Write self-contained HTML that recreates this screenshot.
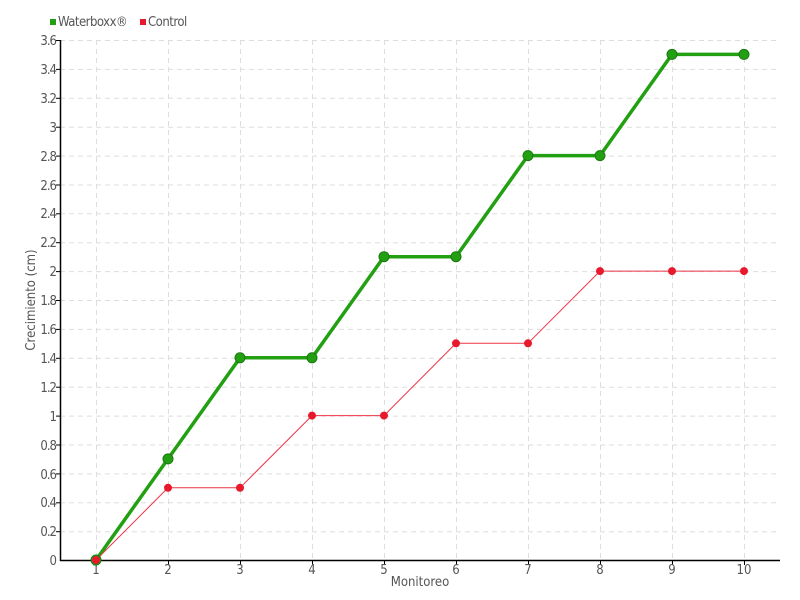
<!DOCTYPE html>
<html><head><meta charset="utf-8"><style>
html,body{margin:0;padding:0;background:#fff;}
svg{display:block;}
text{font-family:"DejaVu Sans Condensed","Liberation Sans",sans-serif;fill:#555;font-size:13px;}
</style></head><body>
<svg width="800" height="600" viewBox="0 0 800 600" xmlns="http://www.w3.org/2000/svg">
<g stroke="#ddd" stroke-width="1" stroke-dasharray="5,4">
<line x1="60" x2="780" y1="40.5" y2="40.5"/><line x1="60" x2="780" y1="69.4" y2="69.4"/><line x1="60" x2="780" y1="98.3" y2="98.3"/><line x1="60" x2="780" y1="127.2" y2="127.2"/><line x1="60" x2="780" y1="156.1" y2="156.1"/><line x1="60" x2="780" y1="185" y2="185"/><line x1="60" x2="780" y1="213.8" y2="213.8"/><line x1="60" x2="780" y1="242.7" y2="242.7"/><line x1="60" x2="780" y1="271.6" y2="271.6"/><line x1="60" x2="780" y1="300.5" y2="300.5"/><line x1="60" x2="780" y1="329.4" y2="329.4"/><line x1="60" x2="780" y1="358.3" y2="358.3"/><line x1="60" x2="780" y1="387.2" y2="387.2"/><line x1="60" x2="780" y1="416.1" y2="416.1"/><line x1="60" x2="780" y1="445" y2="445"/><line x1="60" x2="780" y1="473.9" y2="473.9"/><line x1="60" x2="780" y1="502.8" y2="502.8"/><line x1="60" x2="780" y1="531.7" y2="531.7"/>
<line y1="40" y2="560" x1="96.5" x2="96.5"/><line y1="40" y2="560" x1="168.5" x2="168.5"/><line y1="40" y2="560" x1="240.5" x2="240.5"/><line y1="40" y2="560" x1="312.5" x2="312.5"/><line y1="40" y2="560" x1="384.5" x2="384.5"/><line y1="40" y2="560" x1="456.5" x2="456.5"/><line y1="40" y2="560" x1="528.5" x2="528.5"/><line y1="40" y2="560" x1="600.5" x2="600.5"/><line y1="40" y2="560" x1="672.5" x2="672.5"/><line y1="40" y2="560" x1="744.5" x2="744.5"/>
</g>
<g stroke="#000" stroke-width="1.5">
<line x1="60.5" y1="40" x2="60.5" y2="561"/>
<line x1="60" y1="560.5" x2="780" y2="560.5"/>
</g>
<g stroke="#000" stroke-width="1">
<line x1="56" x2="60" y1="40.5" y2="40.5"/><line x1="56" x2="60" y1="69.4" y2="69.4"/><line x1="56" x2="60" y1="98.3" y2="98.3"/><line x1="56" x2="60" y1="127.2" y2="127.2"/><line x1="56" x2="60" y1="156.1" y2="156.1"/><line x1="56" x2="60" y1="185" y2="185"/><line x1="56" x2="60" y1="213.8" y2="213.8"/><line x1="56" x2="60" y1="242.7" y2="242.7"/><line x1="56" x2="60" y1="271.6" y2="271.6"/><line x1="56" x2="60" y1="300.5" y2="300.5"/><line x1="56" x2="60" y1="329.4" y2="329.4"/><line x1="56" x2="60" y1="358.3" y2="358.3"/><line x1="56" x2="60" y1="387.2" y2="387.2"/><line x1="56" x2="60" y1="416.1" y2="416.1"/><line x1="56" x2="60" y1="445" y2="445"/><line x1="56" x2="60" y1="473.9" y2="473.9"/><line x1="56" x2="60" y1="502.8" y2="502.8"/><line x1="56" x2="60" y1="531.7" y2="531.7"/>
<line y1="560" y2="565" x1="96.5" x2="96.5"/><line y1="560" y2="565" x1="168.5" x2="168.5"/><line y1="560" y2="565" x1="240.5" x2="240.5"/><line y1="560" y2="565" x1="312.5" x2="312.5"/><line y1="560" y2="565" x1="384.5" x2="384.5"/><line y1="560" y2="565" x1="456.5" x2="456.5"/><line y1="560" y2="565" x1="528.5" x2="528.5"/><line y1="560" y2="565" x1="600.5" x2="600.5"/><line y1="560" y2="565" x1="672.5" x2="672.5"/><line y1="560" y2="565" x1="744.5" x2="744.5"/>
</g>
<g text-anchor="end" letter-spacing="-1">
<text x="56" y="45">3.6</text><text x="56" y="74">3.4</text><text x="56" y="103">3.2</text><text x="56" y="132">3</text><text x="56" y="161">2.8</text><text x="56" y="190">2.6</text><text x="56" y="218">2.4</text><text x="56" y="247">2.2</text><text x="56" y="276">2</text><text x="56" y="305">1.8</text><text x="56" y="334">1.6</text><text x="56" y="363">1.4</text><text x="56" y="392">1.2</text><text x="56" y="421">1</text><text x="56" y="450">0.8</text><text x="56" y="479">0.6</text><text x="56" y="507">0.4</text><text x="56" y="536">0.2</text><text x="56" y="565">0</text>
</g>
<g text-anchor="middle">
<text x="96" y="574">1</text><text x="168" y="574">2</text><text x="240" y="574">3</text><text x="312" y="574">4</text><text x="384" y="574">5</text><text x="456" y="574">6</text><text x="528" y="574">7</text><text x="600" y="574">8</text><text x="672" y="574">9</text><text x="744" y="574">10</text>
<text x="420" y="586">Monitoreo</text>
<text transform="translate(35,300) rotate(-90)">Crecimiento (cm)</text>
</g>
<polyline fill="none" stroke="#22a012" stroke-width="3.5" points="96,560 168,458.9 240,357.8 312,357.8 384,256.7 456,256.7 528,155.6 600,155.6 672,54.4 744,54.4"/>
<polyline fill="none" stroke="#ee3344" stroke-width="1" points="96,560 168,487.8 240,487.8 312,415.6 384,415.6 456,343.3 528,343.3 600,271.1 672,271.1 744,271.1"/>
<g fill="#22a012" stroke="#1a7a10" stroke-width="1">
<circle cx="96" cy="560" r="5"/><circle cx="168" cy="458.9" r="5"/><circle cx="240" cy="357.8" r="5"/><circle cx="312" cy="357.8" r="5"/><circle cx="384" cy="256.7" r="5"/><circle cx="456" cy="256.7" r="5"/><circle cx="528" cy="155.6" r="5"/><circle cx="600" cy="155.6" r="5"/><circle cx="672" cy="54.4" r="5"/><circle cx="744" cy="54.4" r="5"/>
</g>
<g fill="#e8192c">
<circle cx="96" cy="560" r="4"/><circle cx="168" cy="487.8" r="4"/><circle cx="240" cy="487.8" r="4"/><circle cx="312" cy="415.6" r="4"/><circle cx="384" cy="415.6" r="4"/><circle cx="456" cy="343.3" r="4"/><circle cx="528" cy="343.3" r="4"/><circle cx="600" cy="271.1" r="4"/><circle cx="672" cy="271.1" r="4"/><circle cx="744" cy="271.1" r="4"/>
</g>
<rect x="50" y="19" width="6" height="6" fill="#22a012"/>
<text x="58" y="26" letter-spacing="-0.5">Waterboxx®</text>
<rect x="140" y="19" width="6" height="6" fill="#e8192c"/>
<text x="148" y="26" letter-spacing="-0.5">Control</text>
</svg>
</body></html>
